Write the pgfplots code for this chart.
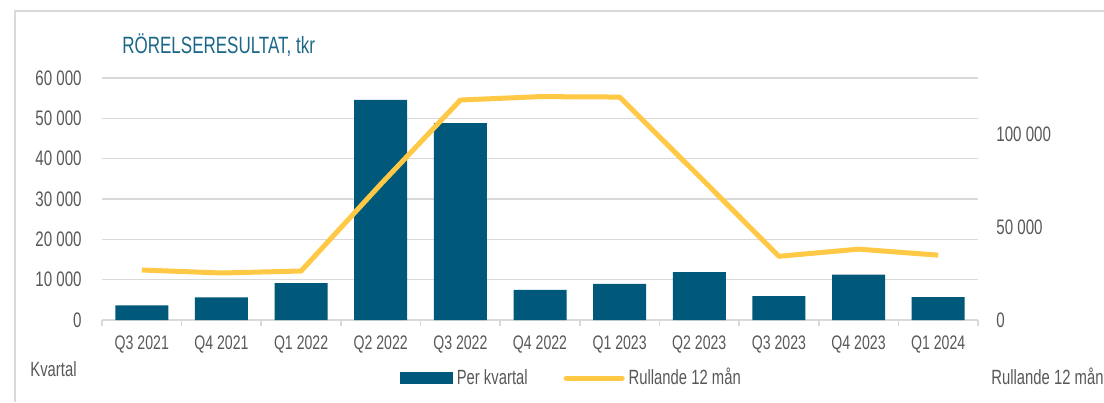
\documentclass[border=0pt]{standalone}
\usepackage{fontspec}
\setmainfont{Liberation Sans}[FakeStretch=0.72]
\usepackage{pgfplots}
\pgfplotsset{compat=1.18}
\definecolor{barcol}{RGB}{0,88,122}
\definecolor{linecol}{RGB}{255,200,69}
\definecolor{gridcol}{RGB}{217,217,217}
\definecolor{textgray}{RGB}{89,89,89}
\definecolor{titlecol}{RGB}{27,103,137}
\begin{document}
\begin{tikzpicture}
\useasboundingbox (0,0) rectangle (552pt,201pt);
\fill[white] (0,0) rectangle (552pt,201pt);
\draw[gridcol, line width=0.8pt] (7.5pt,0) -- (7.5pt,195.5pt) -- (552pt,195.5pt);
\node[anchor=west, text=titlecol, font=\fontsize{11.8}{14}\selectfont, inner sep=0pt] at (61pt,178.5pt) {RÖRELSERESULTAT, tkr};
\node[anchor=west, text=textgray, font=\fontsize{10.3}{12}\selectfont, inner sep=0pt] at (15pt,16.5pt) {Kvartal};
\node[anchor=west, text=textgray, font=\fontsize{10.3}{12}\selectfont, inner sep=0pt] at (495.5pt,13pt) {Rullande 12 mån};
\begin{axis}[
  at={(51pt,41pt)}, anchor=south west, scale only axis,
  width=438pt, height=121pt,
  xmin=-0.5, xmax=10.5, ymin=0, ymax=60000,
  scaled y ticks=false,
  axis x line*=bottom, axis y line*=left,
  x axis line style={gridcol, line width=0.8pt},
  y axis line style={draw=none},
  xtick={0,...,10},
  xticklabels={Q3 2021,Q4 2021,Q1 2022,Q2 2022,Q3 2022,Q4 2022,Q1 2023,Q2 2023,Q3 2023,Q4 2023,Q1 2024},
  minor xtick={-0.5,0.5,...,10.5},
  tick align=outside,
  major tick length=0pt, minor tick length=3pt,
  xtick style={gridcol, line width=0.8pt},
  ytick style={draw=none},
  ytick={0,10000,20000,30000,40000,50000,60000},
  yticklabels={0,10 000,20 000,30 000,40 000,50 000,60 000},
  ymajorgrids, grid style={gridcol, line width=0.8pt},
  tick label style={font=\fontsize{10.5}{12}\selectfont, text=textgray, inner sep=0pt},
  yticklabel style={xshift=-10pt},
  xticklabel style={yshift=-7.5pt, font=\fontsize{9.8}{12}\selectfont},
  clip=false,
]
\addplot[ybar, bar width=26.5pt, fill=barcol, draw=none] coordinates {
  (0,3600) (1,5600) (2,9170) (3,54550) (4,48840) (5,7440)
  (6,8930) (7,11900) (8,5950) (9,11280) (10,5700)
};
\end{axis}
\begin{axis}[
  at={(51pt,41pt)}, anchor=south west, scale only axis,
  width=438pt, height=121pt,
  xmin=-0.5, xmax=10.5, ymin=0, ymax=130000,
  scaled y ticks=false,
  hide x axis,
  axis y line*=right,
  y axis line style={draw=none},
  ytick style={draw=none},
  ytick={0,50000,100000},
  yticklabels={0,50 000,100 000},
  tick label style={font=\fontsize{10.5}{12}\selectfont, text=textgray, inner sep=0pt},
  yticklabel style={xshift=9pt},
  legend columns=2,
  legend style={draw=none, fill=none, at={(0.537,-0.24)}, anchor=center,
    font=\fontsize{10.3}{12}\selectfont, text=textgray,
    /tikz/every even column/.append style={column sep=16pt}},
  clip=false,
]
\addlegendimage{legend image code/.code={\fill[barcol] (0pt,-2.75pt) rectangle (26pt,2.75pt);}}
\addlegendentry{Per kvartal}
\addplot[linecol, line width=2.5pt, line join=round, mark=none,
  legend image code/.code={\draw[linecol, line width=2.5pt, line cap=round] (0pt,0pt) -- (28pt,0pt);}] coordinates {
  (0,26860) (1,25250) (2,26320) (3,72920) (4,118160) (5,120000)
  (6,119760) (7,77110) (8,34220) (9,38060) (10,34830)
};
\addlegendentry{Rullande 12 mån}
\end{axis}
\end{tikzpicture}
\end{document}
